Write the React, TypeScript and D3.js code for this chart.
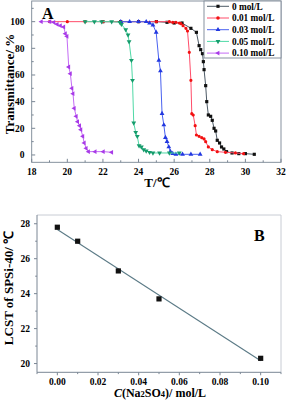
import * as d3 from 'd3'

// Panel A: transmittance vs temperature
const seriesNames = ['0 mol/L', '0.01 mol/L', '0.03 mol/L', '0.05 mol/L', '0.10 mol/L']

const temp0 = [22, 23, 24, 25, 25.6, 26.0, 26.44, 26.94, 27.25, 27.4, 27.49, 27.59, 27.64, 27.68, 27.77, 27.83, 27.92, 28.05, 28.14, 28.24, 28.33, 28.42, 28.55, 28.66, 28.79, 28.94, 29.25, 29.63, 30.0, 30.5]
const trans0 = [100, 100, 100, 100, 99.5, 99, 99, 95, 92, 82, 79, 76, 70, 64, 52, 40, 30, 29, 26, 20, 18, 11, 9, 6, 4.5, 2.5, 1.5, 1, 1, 0.5]

const temp1 = [19, 20, 21, 22, 23, 24, 25, 25.73, 25.92, 26.1, 26.29, 26.38, 26.5, 26.66, 26.75, 26.85, 26.94, 26.99, 27.07, 27.18, 27.25, 27.4, 27.55, 27.68, 27.77, 27.92, 28.14, 28.42, 28.88, 29.44, 29.9]
const trans1 = [100, 100, 100, 100, 100, 100, 100, 100, 99.5, 99.5, 99, 98.5, 97, 95, 93, 77, 56, 31, 30, 22, 15, 14, 13, 12, 10, 6, 4, 2.5, 2, 1.5, 1]

const temp3 = [23, 23.5, 24, 24.43, 24.62, 24.81, 24.99, 25.14, 25.23, 25.32, 25.42, 25.51, 25.6, 25.7, 25.79, 25.92, 26.1, 26.47, 26.94, 27.46]
const trans3 = [100, 100, 100, 100, 99, 97.5, 92, 71, 63, 31, 22.5, 13, 10, 6, 2.5, 1, 0.5, 0.5, 0.5, 0.5]

const temp5 = [21.0, 21.52, 21.93, 22.49, 22.95, 23.04, 23.28, 23.41, 23.47, 23.6, 23.66, 23.73, 23.84, 23.93, 24.03, 24.16, 24.29, 24.43, 24.62, 24.81, 25.18, 25.73, 26.29]
const trans5 = [100, 100, 100, 100, 99.5, 98, 94, 90, 85, 71, 56, 24, 17, 14, 7, 6, 4, 3, 2, 1.5, 1.5, 1.5, 1.5]

const temp10 = [18.54, 19.02, 19.24, 19.43, 19.61, 19.8, 19.89, 19.98, 20.08, 20.17, 20.26, 20.32, 20.39, 20.5, 20.58, 20.69, 20.76, 20.87, 20.95, 21.06, 21.19, 21.56, 22.02, 22.49]
const trans10 = [100, 100, 99.5, 98, 97, 96, 91, 89, 66, 61, 50, 46, 35, 29, 25, 22, 19, 14, 9, 5, 2.5, 2.5, 2.5, 2]

const tempTicks = [18, 20, 22, 24, 26, 28, 30, 32]
const transTicks = [0, 20, 40, 60, 80, 100]

// Panel B: LCST vs Na2SO4 concentration
const conc = [0, 0.01, 0.03, 0.05, 0.1]
const lcst = [27.8, 27.0, 25.3, 23.7, 20.3]
const concTicks = [0, 0.02, 0.04, 0.06, 0.08, 0.1]
const lcstTicks = [20, 22, 24, 26, 28]

const lineColors = ['#4d5a66', '#ff4d6a', '#4a62f0', '#4fd9a6', '#c46cf5']
const markColors = ['#111111', '#f21111', '#2238e0', '#169c6c', '#a83ae8']
const symbols = [d3.symbolSquare, d3.symbolCircle, d3.symbolTriangle, d3.symbolTriangle, d3.symbolTriangle]
const rotations = [0, 0, 0, 180, -90]

const FONT = '"Liberation Serif", "Times New Roman", serif'
const AXIS = '#7a8694'

function Marker({ i, x, y, size = 11 }: { i: number; x: number; y: number; size?: number }) {
  const path = d3.symbol(symbols[i], size)() as string
  return <path d={path} transform={`translate(${x},${y}) rotate(${rotations[i]})`} fill={markColors[i]} />
}

function PanelA() {
  const x = d3.scaleLinear().domain([18, 32]).range([31.7, 281])
  const y = d3.scaleLinear().domain([-5.5, 115.5]).range([162.3, 1])
  const temps = [temp0, temp1, temp3, temp5, temp10]
  const trans = [trans0, trans1, trans3, trans5, trans10]
  const line = d3.line<[number, number]>().x(d => x(d[0])).y(d => y(d[1]))
  const [x0, x1] = x.range()
  const [yb, yt] = y.range()
  const minorX = d3.range(19, 32, 2)
  const minorY = d3.range(10, 111, 20)

  return (
    <g fontFamily={FONT} fontWeight="bold">
      <rect x={x0} y={yt} width={x1 - x0} height={yb - yt} fill="none" stroke={AXIS} strokeWidth={0.9} />
      {tempTicks.map(t => (
        <g key={'xt' + t}>
          <line x1={x(t)} x2={x(t)} y1={yb} y2={yb - 3.5} stroke={AXIS} />
          <text x={x(t)} y={175} fontSize={9.5} textAnchor="middle">{t}</text>
        </g>
      ))}
      {minorX.map(t => <line key={'xm' + t} x1={x(t)} x2={x(t)} y1={yb} y2={yb - 2} stroke={AXIS} />)}
      {transTicks.map(v => (
        <g key={'yt' + v}>
          <line x1={x0} x2={x0 + 3.5} y1={y(v)} y2={y(v)} stroke={AXIS} />
          <text x={24.5} y={y(v) + 3.3} fontSize={9.5} textAnchor="end">{v}</text>
        </g>
      ))}
      {minorY.map(v => <line key={'ym' + v} x1={x0} x2={x0 + 2} y1={y(v)} y2={y(v)} stroke={AXIS} />)}

      {temps.map((ts, i) => {
        const pts = ts.map((t, k) => [t, trans[i][k]] as [number, number])
        return (
          <g key={'s' + i}>
            <path d={line(pts) as string} fill="none" stroke={lineColors[i]} strokeWidth={1} />
            {pts.map((p, k) => <Marker key={k} i={i} x={x(p[0])} y={y(p[1])} size={i === 1 ? 8 : 10} />)}
          </g>
        )
      })}

      <text x={42} y={19} fontSize={16}>A</text>

      <rect x={204} y={yt} width={x1 - 204} height={57} fill="#fff" stroke={AXIS} strokeWidth={0.9} />
      {seriesNames.map((n, i) => {
        const ly = 6.3 + i * 11.7
        return (
          <g key={'lg' + i}>
            <line x1={207} x2={229} y1={ly} y2={ly} stroke={lineColors[i]} />
            <Marker i={i} x={218} y={ly} size={10} />
            <text x={232} y={ly + 3.2} fontSize={9.3}>{n}</text>
          </g>
        )
      })}

      <text transform="translate(14,84) rotate(-90)" fontSize={13} textAnchor="middle">Transmittance/ %</text>
      <text x={157} y={187} fontSize={13} textAnchor="middle">T/℃</text>
    </g>
  )
}

function PanelB() {
  const x = d3.scaleLinear().domain([-0.01, 0.11]).range([37, 281])
  const y = d3.scaleLinear().domain([19.5, 28.5]).range([372.3, 215])
  const [x0, x1] = x.range()
  const [yb, yt] = y.range()
  // least squares fit through the measured points
  const mx = d3.mean(conc) as number
  const my = d3.mean(lcst) as number
  const sxy = d3.sum(conc, (c, i) => (c - mx) * (lcst[i] - my))
  const sxx = d3.sum(conc, c => (c - mx) ** 2)
  const slope = sxy / sxx
  const icpt = my - slope * mx
  const cMin = d3.min(conc) as number
  const cMax = d3.max(conc) as number
  const minorX = d3.range(-0.01, 0.111, 0.02)
  const minorY = d3.range(21, 28, 2)

  return (
    <g fontFamily={FONT} fontWeight="bold">
      <line x1={x0} x2={x1} y1={yt} y2={yt} stroke="#c8ccd4" />
      <line x1={x1} x2={x1} y1={yt} y2={yb} stroke="#c8ccd4" />
      <line x1={x0} x2={x1} y1={yb} y2={yb} stroke={AXIS} />
      <line x1={x0} x2={x0} y1={yt} y2={yb} stroke={AXIS} />
      {concTicks.map(c => (
        <g key={'xt' + c}>
          <line x1={x(c)} x2={x(c)} y1={yb} y2={yb + 3} stroke={AXIS} />
          <text x={x(c)} y={385} fontSize={9.5} textAnchor="middle">{c.toFixed(2)}</text>
        </g>
      ))}
      {minorX.map(c => <line key={'xm' + c} x1={x(c)} x2={x(c)} y1={yb} y2={yb + 1.8} stroke={AXIS} />)}
      {lcstTicks.map(v => (
        <g key={'yt' + v}>
          <line x1={x0} x2={x0 - 3} y1={y(v)} y2={y(v)} stroke={AXIS} />
          <text x={30} y={y(v) + 3.3} fontSize={9.5} textAnchor="end">{v}</text>
        </g>
      ))}
      {minorY.map(v => <line key={'ym' + v} x1={x0} x2={x0 - 1.8} y1={y(v)} y2={y(v)} stroke={AXIS} />)}

      <line x1={x(cMin)} x2={x(cMax)} y1={y(icpt + slope * cMin)} y2={y(icpt + slope * cMax)} stroke="#5b7a86" strokeWidth={1.1} />
      {conc.map((c, i) => (
        <rect key={'p' + i} x={x(c) - 2.6} y={y(lcst[i]) - 2.6} width={5.2} height={5.2} fill="#111" />
      ))}

      <text x={254} y={241} fontSize={16}>B</text>

      <text transform="translate(13,288) rotate(-90)" fontSize={13} textAnchor="middle">LCST of SPSi-40/ ℃</text>
      <text x={160} y={397} fontSize={12} textAnchor="middle">
        <tspan fontStyle="italic">C</tspan>(Na<tspan fontSize={8.5}>2</tspan>SO<tspan fontSize={8.5}>4</tspan>)/ mol/L
      </text>
    </g>
  )
}

export default function App() {
  return (
    <svg width={287} height={401} style={{ position: 'absolute', left: 0, top: 0, background: '#fff' }}>
      <rect width={287} height={401} fill="#fff" />
      <PanelA />
      <PanelB />
    </svg>
  )
}
